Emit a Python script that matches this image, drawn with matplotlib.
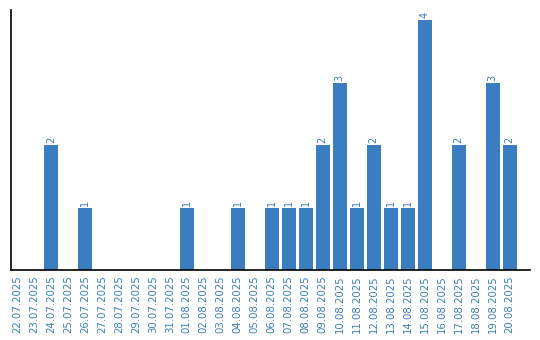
import matplotlib
matplotlib.use("Agg")
import matplotlib.pyplot as plt

dates = ["22.07.2025", "23.07.2025", "24.07.2025", "25.07.2025", "26.07.2025",
         "27.07.2025", "28.07.2025", "29.07.2025", "30.07.2025", "31.07.2025",
         "01.08.2025", "02.08.2025", "03.08.2025", "04.08.2025", "05.08.2025",
         "06.08.2025", "07.08.2025", "08.08.2025", "09.08.2025", "10.08.2025",
         "11.08.2025", "12.08.2025", "13.08.2025", "14.08.2025", "15.08.2025",
         "16.08.2025", "17.08.2025", "18.08.2025", "19.08.2025", "20.08.2025"]
counts = [0, 0, 2, 0, 1, 0, 0, 0, 0, 0,
          1, 0, 0, 1, 0, 1, 1, 1, 2, 3,
          1, 2, 1, 1, 4, 0, 2, 0, 3, 2]

color = "#3a7dc1"
fig = plt.figure(figsize=(5.4, 3.4), dpi=100)
ax = fig.add_axes([11/540, 70/340, 519/540, 260/340])
x = list(range(len(dates)))
ax.bar(x, counts, width=0.82, color=color)
for xi, v in zip(x, counts):
    if v > 0:
        ax.text(xi, v + 0.03, str(v), rotation=90, ha="center", va="bottom",
                fontsize=7, color=color)
ax.set_xlim(-0.35, 30.2)
ax.set_ylim(0, 4.16)
ax.set_xticks(x)
ax.set_xticklabels(dates, rotation=90, fontsize=7.3, color=color)
ax.tick_params(axis="x", length=0, pad=4)
ax.set_yticks([])
for s in ["top", "right"]:
    ax.spines[s].set_visible(False)
ax.spines["left"].set_linewidth(1.2)
ax.spines["bottom"].set_linewidth(1.2)
fig.savefig("out.png", dpi=100)
